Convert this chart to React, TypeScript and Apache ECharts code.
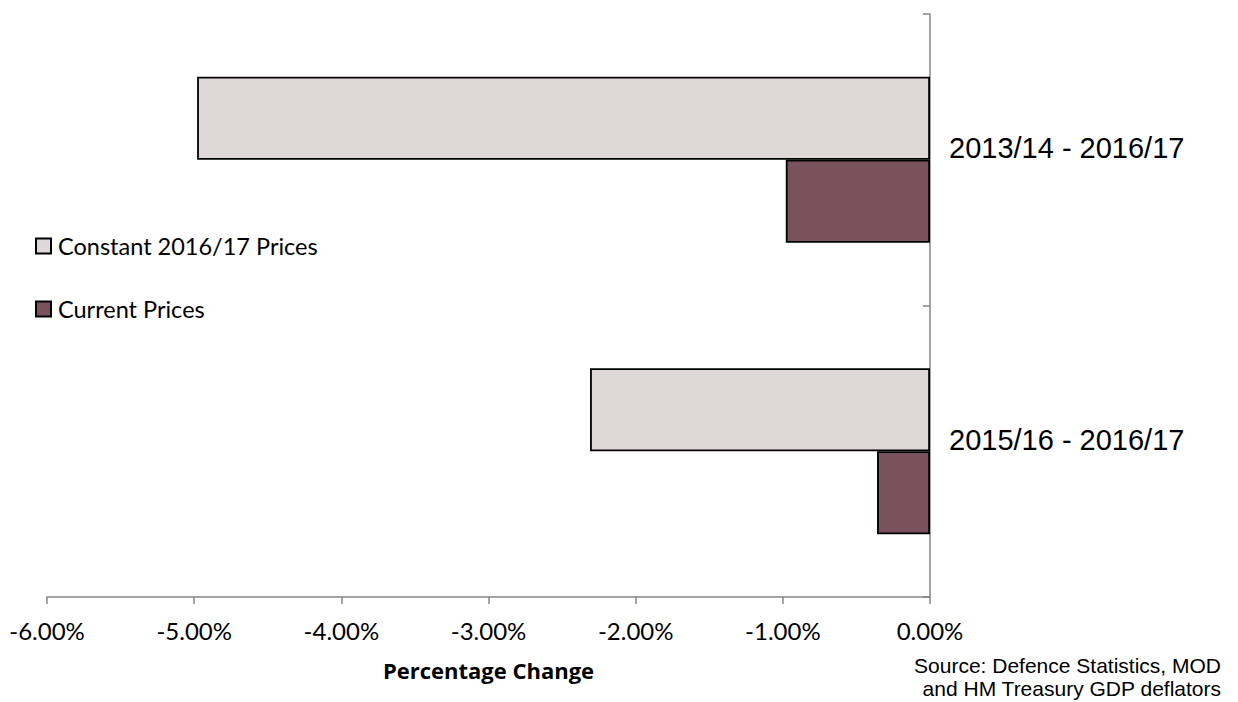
import React, { useEffect, useRef } from "react";
import * as echarts from "echarts";

const categories = ["2013/14 - 2016/17", "2015/16 - 2016/17"];
const seriesNames = ["Constant 2016/17 Prices", "Current Prices"];
const constantPrices = [-4.98, -2.31];
const currentPrices = [-0.98, -0.36];
const seriesColors = ["#E0D7D9", "#7A525E"];
const axisMin = -6;
const axisMax = 0;
const axisInterval = 1;
const xAxisTitle = "Percentage Change";
const sourceNote = "Source: Defence Statistics, MOD\nand HM Treasury GDP deflators";

export default function App() {
  const ref = useRef<HTMLDivElement>(null);
  useEffect(() => {
    document.body.style.margin = "0";
    if (!ref.current) return;
    const chart = echarts.init(ref.current, null, { renderer: "svg" });
    const values = [constantPrices, currentPrices];
    chart.setOption({
      animation: false,
      backgroundColor: "#ffffff",
      grid: { left: 47, right: 308, top: 14, bottom: 105, containLabel: false },
      legend: {
        orient: "vertical",
        left: 35,
        top: 234,
        padding: 0,
        itemWidth: 15,
        itemHeight: 15,
        itemGap: 39,
        icon: "rect",
        data: seriesNames,
        textStyle: { fontFamily: "Lato", fontSize: 23.5, color: "#000", padding: [0, 0, 0, 2] },
      },
      xAxis: {
        type: "value",
        min: axisMin,
        max: axisMax,
        interval: axisInterval,
        position: "bottom",
        name: xAxisTitle,
        nameLocation: "middle",
        nameGap: 62,
        nameTextStyle: { fontFamily: "Open Sans", fontWeight: "bold", fontSize: 22, color: "#000" },
        axisLine: { show: true, onZero: false, lineStyle: { color: "#868686", width: 1.5 } },
        axisTick: { show: true, length: 7, lineStyle: { color: "#868686", width: 1.5 } },
        splitLine: { show: false },
        axisLabel: {
          margin: 21,
          fontFamily: "Lato",
          fontSize: 24,
          color: "#000",
          formatter: (v: number) => v.toFixed(2) + "%",
        },
      },
      yAxis: {
        type: "category",
        data: categories,
        inverse: true,
        position: "right",
        axisLine: { show: true, lineStyle: { color: "#868686", width: 1.5 } },
        axisTick: { show: true, inside: true, length: 7, lineStyle: { color: "#868686", width: 1.5 } },
        splitLine: { show: false },
        axisLabel: {
          margin: 19,
          fontFamily: "Liberation Sans",
          fontSize: 29,
          color: "#000",
          verticalAlign: "bottom",
          lineHeight: 23,
        },
      },
      series: seriesNames.map((name, i) => ({
        name,
        type: "bar",
        data: values[i],
        barGap: "0%",
        barCategoryGap: "43%",
        itemStyle: { color: seriesColors[i], borderColor: "#000", borderWidth: 1.8 },
      })),
      graphic: [
        {
          type: "text",
          right: 17,
          top: 654,
          style: {
            text: sourceNote,
            fontFamily: "Liberation Sans",
            fontSize: 21,
            lineHeight: 23,
            fill: "#000",
            textAlign: "right",
          },
        },
      ],
    });
    return () => chart.dispose();
  }, []);
  return <div ref={ref} style={{ width: 1238, height: 702 }} />;
}
